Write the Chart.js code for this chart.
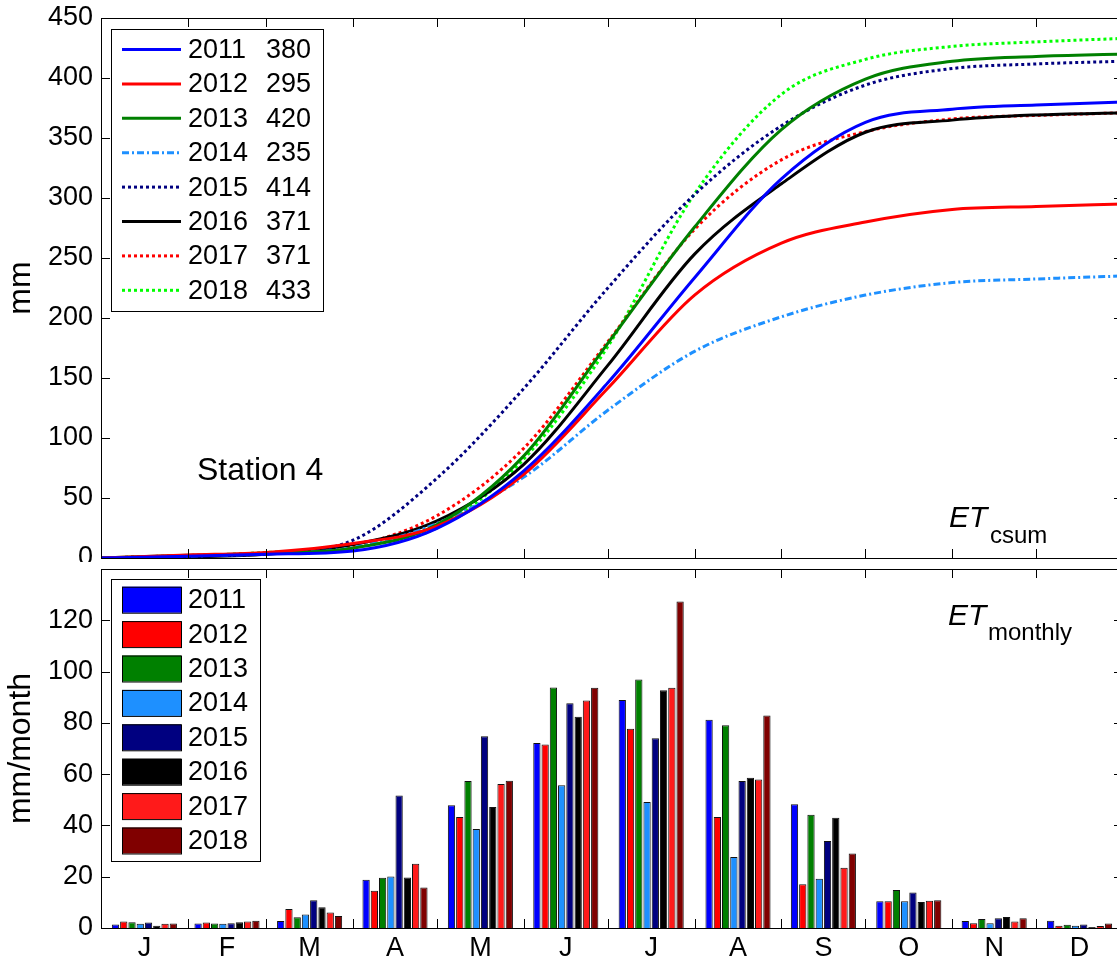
<!DOCTYPE html>
<html>
<head>
<meta charset="utf-8">
<script src="https://cdn.jsdelivr.net/npm/chart.js@4.4.1/dist/chart.umd.min.js"></script>
<style>
  html, body { margin: 0; padding: 0; background: #fff; overflow: hidden; }
  canvas { position: absolute; left: 0; }
  #cumChart { top: 0; }
  #monChart { top: 560px; }
</style>
</head>
<body>
<canvas id="cumChart" width="1124" height="562"></canvas>
<canvas id="monChart" width="1124" height="401"></canvas>
<script>
// --- Data ---
const years = ["2011", "2012", "2013", "2014", "2015", "2016", "2017", "2018"];
const totals = [380, 295, 420, 235, 414, 371, 371, 433];
const months = ["J", "F", "M", "A", "M", "J", "J", "A", "S", "O", "N", "D"];
const monthEnd = [31, 59, 90, 120, 151, 181, 212, 243, 273, 304, 334, 365];

// cumulative ET (mm), read at day of year
const cumDays = [0, 31, 59, 90, 120, 151, 181, 212, 243, 273, 304, 334, 365];
const cum2011 = [0, 1.4, 3.2, 5.9, 24.7, 72.6, 146, 233.6, 316, 363.1, 374, 377.5, 380];
const cum2012 = [0, 2.5, 4.6, 12, 26.5, 69.8, 141.4, 219.1, 262.4, 280, 290.5, 293, 295];
const cum2013 = [0, 2.2, 4.0, 8.2, 27.8, 85.1, 178.9, 275.8, 357, 399.1, 414, 418, 420];
const cum2014 = [0, 1.7, 3.4, 8.7, 28.8, 67.4, 123.1, 172.2, 201, 219.1, 229.5, 232.5, 235];
const cum2015 = [0, 2.1, 4.0, 14.8, 66.5, 141.3, 225, 302.9, 360.2, 394.1, 407.9, 411.7, 414];
const cum2016 = [0, 0.9, 3.1, 11.2, 30.9, 78.1, 160.5, 253.2, 311.8, 354.8, 364.9, 369.2, 371];
const cum2017 = [0, 1.7, 4.2, 10.2, 35.3, 91.5, 180.2, 273.9, 331.8, 355.3, 365.9, 368.8, 371];
const cum2018 = [0, 1.8, 4.6, 9.3, 25.1, 82.5, 176.2, 303.5, 386.4, 415.5, 426.3, 430.1, 433];

// monthly ET (mm/month), J..D
const mon2011 = [1.4, 1.8, 2.7, 18.8, 47.9, 72.1, 88.9, 81.2, 48.3, 10.4, 2.7, 2.8];
const mon2012 = [2.5, 2.1, 7.4, 14.5, 43.3, 71.6, 77.7, 43.3, 17.1, 10.4, 1.9, 0.9];
const mon2013 = [2.2, 1.8, 4.2, 19.6, 57.3, 93.8, 96.9, 79.1, 44.2, 14.8, 3.5, 1.3];
const mon2014 = [1.7, 1.7, 5.3, 20.1, 38.6, 55.7, 49.1, 27.7, 19.2, 10.4, 1.9, 0.9];
const mon2015 = [2.1, 1.9, 10.8, 51.7, 74.8, 87.6, 74.0, 57.3, 33.9, 13.8, 3.8, 1.4];
const mon2016 = [0.9, 2.2, 8.1, 19.7, 47.2, 82.4, 92.7, 58.6, 43.0, 10.1, 4.3, 0.4];
const mon2017 = [1.7, 2.5, 6.0, 25.1, 56.2, 88.7, 93.7, 57.9, 23.5, 10.6, 2.5, 0.8];
const mon2018 = [1.8, 2.8, 4.7, 15.8, 57.4, 93.7, 127.3, 82.9, 29.1, 10.8, 3.8, 1.8];

const cumSeries = [cum2011, cum2012, cum2013, cum2014, cum2015, cum2016, cum2017, cum2018];
const monSeries = [mon2011, mon2012, mon2013, mon2014, mon2015, mon2016, mon2017, mon2018];

// --- Styles ---
const lineColors = ["#0000ff", "#ff0000", "#008000", "#1e90ff", "#000080", "#000000", "#ff0000", "#00ff00"];
const lineDash = [[], [], [], [7, 3, 2, 3], [3, 3], [], [3, 3], [3, 3]];
const barColors = ["#0000ff", "#ff0000", "#008000", "#1e90ff", "#000080", "#000000", "#ff1a1a", "#800000"];

const FONT = "'Liberation Sans', Arial, Helvetica, sans-serif";
Chart.defaults.font.family = FONT;
Chart.defaults.color = "#000";
Chart.defaults.animation = false;

const monthStart = [0].concat(monthEnd.slice(0, -1));
const monthMid = monthEnd.map((e, i) => (e + monthStart[i]) / 2);

// fixed axis boxes so the plot areas land where the figure has them
function fixY(s) {
  s.width = 101;
  s.paddingTop = 0;
  s.paddingBottom = 0;
}
function fixX(h) {
  return (s) => {
    s.height = h;
    s.paddingLeft = 0;
    s.paddingRight = 0;
  };
}

// --- Plugins ---
// box round the plot with inward ticks, like the original figure
const frameTicks = {
  id: "frameTicks",
  afterDraw(chart) {
    const { ctx, chartArea: a, scales: { x, y } } = chart;
    const L = 9;
    ctx.save();
    ctx.strokeStyle = "#000";
    ctx.lineWidth = 1;
    ctx.beginPath();
    y.ticks.forEach((t) => {
      const py = Math.round(y.getPixelForValue(t.value)) + 0.5;
      ctx.moveTo(a.left, py); ctx.lineTo(a.left + L, py);
      ctx.moveTo(a.right, py); ctx.lineTo(a.right - L, py);
    });
    monthEnd.slice(0, -1).forEach((d) => {
      const px = Math.round(x.getPixelForValue(d)) + 0.5;
      ctx.moveTo(px, a.top); ctx.lineTo(px, a.top + L);
      ctx.moveTo(px, a.bottom); ctx.lineTo(px, a.bottom - L);
    });
    ctx.stroke();
    ctx.strokeRect(a.left + 0.5, a.top + 0.5, a.right - a.left - 1, a.bottom - a.top);
    ctx.restore();
  }
};

function drawLegend(chart, opts) {
  const { ctx } = chart;
  const b = opts.box;
  ctx.save();
  ctx.fillStyle = "#fff";
  ctx.fillRect(b.x, b.y, b.w, b.h);
  ctx.strokeStyle = "#000";
  ctx.lineWidth = 1;
  ctx.strokeRect(b.x + 0.5, b.y + 0.5, b.w, b.h);
  ctx.font = "27px " + FONT;
  ctx.textBaseline = "middle";
  ctx.fillStyle = "#000";
  chart.data.datasets.forEach((ds, i) => {
    const yy = opts.row0 + i * opts.step;
    if (opts.kind === "line") {
      ctx.strokeStyle = ds.borderColor;
      ctx.lineWidth = 3;
      ctx.setLineDash(ds.borderDash || []);
      ctx.beginPath();
      ctx.moveTo(122, yy);
      ctx.lineTo(181, yy);
      ctx.stroke();
      ctx.setLineDash([]);
    } else {
      ctx.fillStyle = ds.backgroundColor;
      ctx.fillRect(122, yy - 13, 59, 26);
      ctx.strokeStyle = "#000";
      ctx.lineWidth = 1;
      ctx.strokeRect(122.5, yy - 12.5, 59, 26);
    }
    ctx.fillStyle = "#000";
    ctx.fillText(years[i], 188, yy + 1);
    if (opts.kind === "line") ctx.fillText(String(totals[i]), 266, yy + 1);
  });
  ctx.restore();
}

function drawLabels(chart, items) {
  const { ctx } = chart;
  ctx.save();
  ctx.fillStyle = "#000";
  ctx.textBaseline = "alphabetic";
  items.forEach((t) => {
    ctx.font = t.font;
    ctx.fillText(t.text, t.x, t.y);
  });
  ctx.restore();
}

const cumDecor = {
  id: "cumDecor",
  afterDraw(chart) {
    drawLegend(chart, { box: { x: 111, y: 29, w: 212, h: 282 }, row0: 49.5, step: 34.4, kind: "line" });
    drawLabels(chart, [
      { text: "Station 4", x: 197, y: 480, font: "32px " + FONT },
      { text: "ET", x: 949, y: 527, font: "italic 30px " + FONT },
      { text: "csum", x: 990, y: 543, font: "24px " + FONT }
    ]);
  }
};

const monDecor = {
  id: "monDecor",
  afterDraw(chart) {
    drawLegend(chart, { box: { x: 111, y: 19, w: 149, h: 282 }, row0: 39.7, step: 34.4, kind: "patch" });
    drawLabels(chart, [
      { text: "ET", x: 948, y: 65, font: "italic 30px " + FONT },
      { text: "monthly", x: 988, y: 80, font: "24px " + FONT }
    ]);
  }
};

// --- Charts ---
const tickFont = { size: 27 };
const titleFont = { size: 32 };

new Chart(document.getElementById("cumChart"), {
  type: "line",
  data: {
    datasets: years.map((yr, i) => ({
      label: yr,
      data: cumDays.map((d, k) => ({ x: d, y: cumSeries[i][k] })),
      borderColor: lineColors[i],
      backgroundColor: lineColors[i],
      borderDash: lineDash[i],
      borderWidth: 3,
      pointRadius: 0,
      fill: false,
      cubicInterpolationMode: "monotone"
    }))
  },
  options: {
    responsive: false,
    layout: { padding: { top: 18, bottom: 4, left: 0, right: 1 } },
    plugins: { legend: { display: false }, tooltip: { enabled: false } },
    scales: {
      x: {
        type: "linear", min: 0, max: 365,
        ticks: { display: false },
        grid: { display: false, drawTicks: false },
        border: { display: false },
        afterFit: fixX(0)
      },
      y: {
        min: 0, max: 450,
        ticks: { stepSize: 50, font: tickFont, padding: 8 },
        grid: { display: false, drawTicks: false },
        border: { display: false },
        title: { display: true, text: "mm", font: titleFont, padding: { top: 2, bottom: 0 } },
        afterFit: fixY
      }
    }
  },
  plugins: [frameTicks, cumDecor]
});

new Chart(document.getElementById("monChart"), {
  type: "bar",
  data: {
    datasets: years.map((yr, i) => ({
      label: yr,
      data: monthMid.map((m, k) => ({ x: m, y: monSeries[i][k] })),
      backgroundColor: barColors[i],
      borderColor: "#111",
      borderWidth: 1,
      categoryPercentage: 0.8,
      barPercentage: 0.88
    }))
  },
  options: {
    responsive: false,
    layout: { padding: { top: 9, bottom: 0, left: 0, right: 1 } },
    plugins: { legend: { display: false }, tooltip: { enabled: false } },
    scales: {
      x: {
        type: "linear", min: 0, max: 365, offset: false,
        afterBuildTicks: (s) => { s.ticks = monthMid.map((v) => ({ value: v })); },
        ticks: { font: tickFont, padding: 4, autoSkip: false, maxRotation: 0, callback: (v, i) => months[i] },
        grid: { display: false, drawTicks: false, offset: false },
        border: { display: false },
        afterFit: fixX(33)
      },
      y: {
        min: 0, max: 140,
        ticks: { stepSize: 20, font: tickFont, padding: 8, callback: (v) => (v > 120 ? "" : v) },
        grid: { display: false, drawTicks: false },
        border: { display: false },
        title: { display: true, text: "mm/month", font: titleFont, padding: { top: 2, bottom: 0 } },
        afterFit: fixY
      }
    }
  },
  plugins: [frameTicks, monDecor]
});
</script>
</body>
</html>
